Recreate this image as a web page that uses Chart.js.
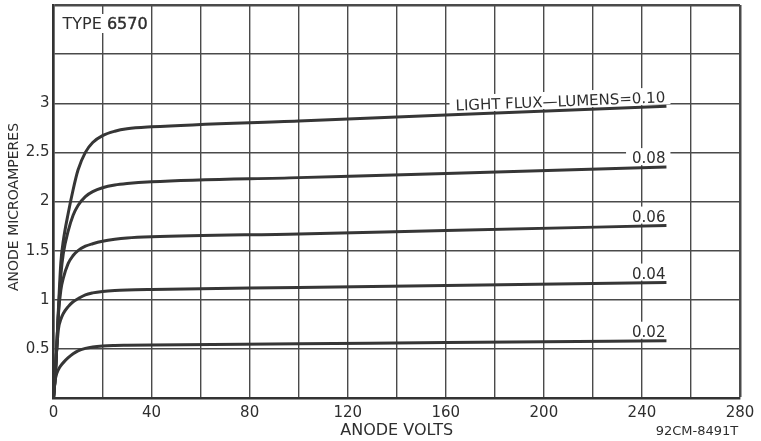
<!DOCTYPE html>
<html>
<head>
<meta charset="utf-8">
<script src="https://cdn.jsdelivr.net/npm/chart.js@4.4.0/dist/chart.umd.min.js"></script>
<style>
  html, body { margin: 0; padding: 0; background: #fff; }
</style>
</head>
<body>
<canvas id="chart" width="761" height="441"></canvas>
<script>
const volts = [0, 0.5, 1, 2, 3, 4, 6, 8, 10, 13, 16, 20, 25, 30, 40, 100, 160, 250];

// anode microamperes, one list per light flux (lumens)
const flux = ["0.02", "0.04", "0.06", "0.08", "0.10"];
const amps002 = [0, 0.15, 0.22, 0.29, 0.33, 0.36, 0.41, 0.45, 0.48, 0.505, 0.52, 0.53, 0.535, 0.537, 0.54, 0.552, 0.565, 0.583];
const amps004 = [0, 0.15, 0.38, 0.7, 0.8, 0.86, 0.93, 0.98, 1.01, 1.05, 1.07, 1.085, 1.095, 1.1, 1.105, 1.125, 1.145, 1.175];
const amps006 = [0, 0.15, 0.35, 0.85, 1.1, 1.22, 1.37, 1.45, 1.5, 1.545, 1.57, 1.595, 1.615, 1.628, 1.64, 1.67, 1.705, 1.755];
const amps008 = [0, 0.15, 0.35, 0.87, 1.25, 1.47, 1.7, 1.86, 1.96, 2.05, 2.1, 2.14, 2.168, 2.183, 2.2, 2.243, 2.286, 2.35];
const amps010 = [0, 0.15, 0.35, 0.9, 1.38, 1.6, 1.88, 2.12, 2.32, 2.5, 2.6, 2.67, 2.715, 2.74, 2.76, 2.82, 2.88, 2.97];
const ampsAll = [amps002, amps004, amps006, amps008, amps010];

const xTicks = [0, 40, 80, 120, 160, 200, 240, 280];
const yTicks = [0.5, 1, 1.5, 2, 2.5, 3];

const ink = "#2e2e2e";
const FONT = "'DejaVu Sans', sans-serif";

function drawNotes(chart, erase) {
  const ctx = chart.ctx;
  const xs = chart.scales.x, ys = chart.scales.y;
  ctx.save();
  ctx.font = "15px " + FONT;
  ampsAll.forEach((amps, i) => {
    const n = amps.length;
    const px = xs.getPixelForValue(volts[n - 1]);
    const py = ys.getPixelForValue(amps[n - 1]) - 4;
    const qx = xs.getPixelForValue(volts[n - 3]);
    const qy = ys.getPixelForValue(amps[n - 3]) - 4;
    const text = i === 4 ? "LIGHT FLUX\u2014LUMENS=" + flux[i] : flux[i];
    const ang = i === 4 ? Math.atan2(py - qy, px - qx) : 0;
    ctx.save();
    ctx.translate(px - 1, py);
    ctx.rotate(ang);
    const w = ctx.measureText(text).width;
    if (erase) {
      ctx.fillStyle = "#fff";
      ctx.fillRect(-w - 6, -15, w + 11, 17);
    } else {
      ctx.fillStyle = ink;
      ctx.textAlign = "right";
      ctx.textBaseline = "alphabetic";
      ctx.fillText(text, 0, 0);
    }
    ctx.restore();
  });

  // type note, top left
  ctx.font = "16px " + FONT;
  const tx = chart.chartArea.left + 9, ty = chart.chartArea.top + 24;
  const tw = ctx.measureText("TYPE 6570").width;
  if (erase) {
    ctx.fillStyle = "#fff";
    ctx.fillRect(tx - 3, ty - 15, tw + 5, 19);
  } else {
    ctx.fillStyle = ink;
    ctx.textBaseline = "alphabetic";
    ctx.fillText("TYPE ", tx, ty);
    const w1 = ctx.measureText("TYPE ").width;
    ctx.strokeStyle = ink;
    ctx.lineWidth = 0.4;
    ctx.fillText("6570", tx + w1, ty);
    ctx.strokeText("6570", tx + w1, ty);
  }
  ctx.restore();
}

const notesPlugin = {
  id: "notes",
  beforeDatasetsDraw(chart) { drawNotes(chart, true); },
  afterDatasetsDraw(chart) { drawNotes(chart, false); },
  afterDraw(chart) {
    const ctx = chart.ctx;
    const a = chart.chartArea;
    ctx.save();
    ctx.fillStyle = ink;
    ctx.textAlign = "center";
    ctx.textBaseline = "middle";
    ctx.font = "16px " + FONT;
    ctx.fillText("ANODE VOLTS", (a.left + a.right) / 2, 431);
    ctx.font = "13px " + FONT;
    ctx.fillText("92CM-8491T", 697, 432);
    ctx.translate(14, 207);
    ctx.rotate(-Math.PI / 2);
    ctx.font = "14px " + FONT;
    ctx.fillText("ANODE MICROAMPERES", 0, 0);
    ctx.restore();
  }
};

const chart = new Chart(document.getElementById("chart"), {
  type: "line",
  data: {
    datasets: ampsAll.map((amps, i) => ({
      label: flux[i],
      data: volts.map((v, j) => ({ x: v, y: amps[j] })),
      borderColor: "#363636",
      borderWidth: 3,
      fill: false,
      pointRadius: 0,
      cubicInterpolationMode: "monotone"
    }))
  },
  options: {
    responsive: false,
    animation: false,
    layout: { padding: { top: 5, right: 21, left: 0, bottom: 0 } },
    plugins: { legend: { display: false }, tooltip: { enabled: false } },
    scales: {
      x: {
        type: "linear",
        min: 0,
        max: 280,
        afterFit: s => { s.height = 43; s.paddingLeft = 0; s.paddingRight = 0; },
        ticks: {
          stepSize: 20,
          autoSkip: false,
          maxRotation: 0,
          padding: 6,
          color: ink,
          font: { family: FONT, size: 15 },
          callback: v => xTicks.includes(v) ? String(v) : ""
        },
        grid: {
          color: "#4a4a4a",
          lineWidth: c => (c.tick && c.tick.value === 280) ? 2.5 : 1.4,
          drawTicks: false
        },
        border: { color: "#333", width: 2.5 }
      },
      y: {
        min: 0,
        max: 4,
        afterFit: s => { s.width = 53.5; s.paddingTop = 0; s.paddingBottom = 0; },
        ticks: {
          stepSize: 0.5,
          autoSkip: false,
          padding: 4,
          color: ink,
          font: { family: FONT, size: 15 },
          callback: v => yTicks.includes(v) ? String(v) : ""
        },
        grid: {
          color: "#4a4a4a",
          lineWidth: c => (c.tick && c.tick.value === 4) ? 2.5 : 1.4,
          drawTicks: false
        },
        border: { color: "#333", width: 2.5 }
      }
    }
  },
  plugins: [notesPlugin]
});
</script>
</body>
</html>
